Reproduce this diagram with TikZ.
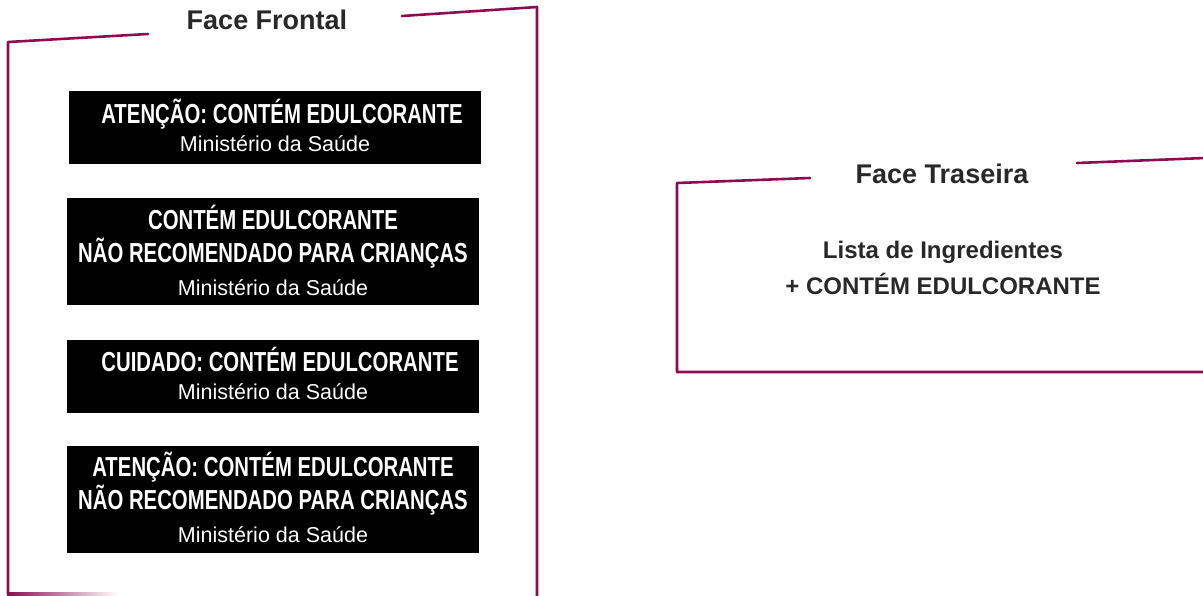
\documentclass[tikz,border=0pt]{standalone}
\usepackage{fontspec}
\setmainfont{Liberation Sans}
\newfontfamily\condfont[FakeStretch=0.74]{Liberation Sans}
\usetikzlibrary{positioning}
\definecolor{weinrot}{RGB}{142,10,82}
\definecolor{fg}{RGB}{40,40,40}
\tikzset{
  every picture/.style={x=1pt, y=-1pt, line cap=round, line join=round},
  % Rahmen
  rahmen/.style={weinrot, line width=2.6pt},
  % Titel
  titel/.style={fg, inner sep=0pt, anchor=base, font=\fontsize{27}{30}\selectfont\bfseries},
  hinweis/.style={fg, inner sep=0pt, align=center, font=\fontsize{24}{36}\selectfont\bfseries},
  % Warnetiketten
  etikett/.style={fill=black, inner sep=0pt, minimum width=412pt, minimum height=#1},
  etikett/.default=73pt,
  aufschrift/.style={text=white, inner sep=0pt, align=center, font=\fontsize{27.5}{33}\selectfont},
}
\newcommand{\warn}[1]{{\condfont\bfseries #1}}
\newcommand{\ms}{{\fontsize{21.5}{26}\selectfont Ministério da Saúde}}

\begin{document}
\begin{tikzpicture}
  \useasboundingbox (0,0) rectangle (1203,595);
  % Face Frontal
  \node[titel] (frontal) at (267,29) {Face Frontal};
  \draw[rahmen] (148,34) -- (8,42) -- (8,594);
  \draw[rahmen] (402,16) -- (537,7) -- (537,596);
  \shade[left color=weinrot, right color=white] (7,592.7) rectangle (118,595.3);
  \node[etikett] (e1) at (275,127.5) {};
  \node[aufschrift] (t1) at ([yshift=2.5pt]e1.center) {\hspace*{14pt}\warn{ATENÇÃO: CONTÉM EDULCORANTE}\\[-5pt]\ms};
  \node[etikett=107pt] (e2) at (273,251.5) {};
  \node[aufschrift] (t2) at ([yshift=1.5pt]e2.center) {\warn{CONTÉM EDULCORANTE}\\\warn{NÃO RECOMENDADO PARA CRIANÇAS}\\\ms};
  \node[etikett] (e3) at (273,376) {};
  \node[aufschrift] (t3) at ([yshift=2.5pt]e3.center) {\hspace*{14pt}\warn{CUIDADO: CONTÉM EDULCORANTE}\\[-5pt]\ms};
  \node[etikett=107pt] (e4) at (273,499.5) {};
  \node[aufschrift] (t4) at ([yshift=2pt]e4.center) {\warn{ATENÇÃO: CONTÉM EDULCORANTE}\\\warn{NÃO RECOMENDADO PARA CRIANÇAS}\\\ms};

  % Face Traseira
  \node[titel] (traseira) at (942,183) {Face Traseira};
  \draw[rahmen] (810,178) -- (677,183) -- (677,372) -- (1205,372);
  \draw[rahmen] (1077,163) -- (1205,158);
  \node[hinweis] (lista) at (943,268) {Lista de Ingredientes\\+ CONTÉM EDULCORANTE};
\end{tikzpicture}
\end{document}
